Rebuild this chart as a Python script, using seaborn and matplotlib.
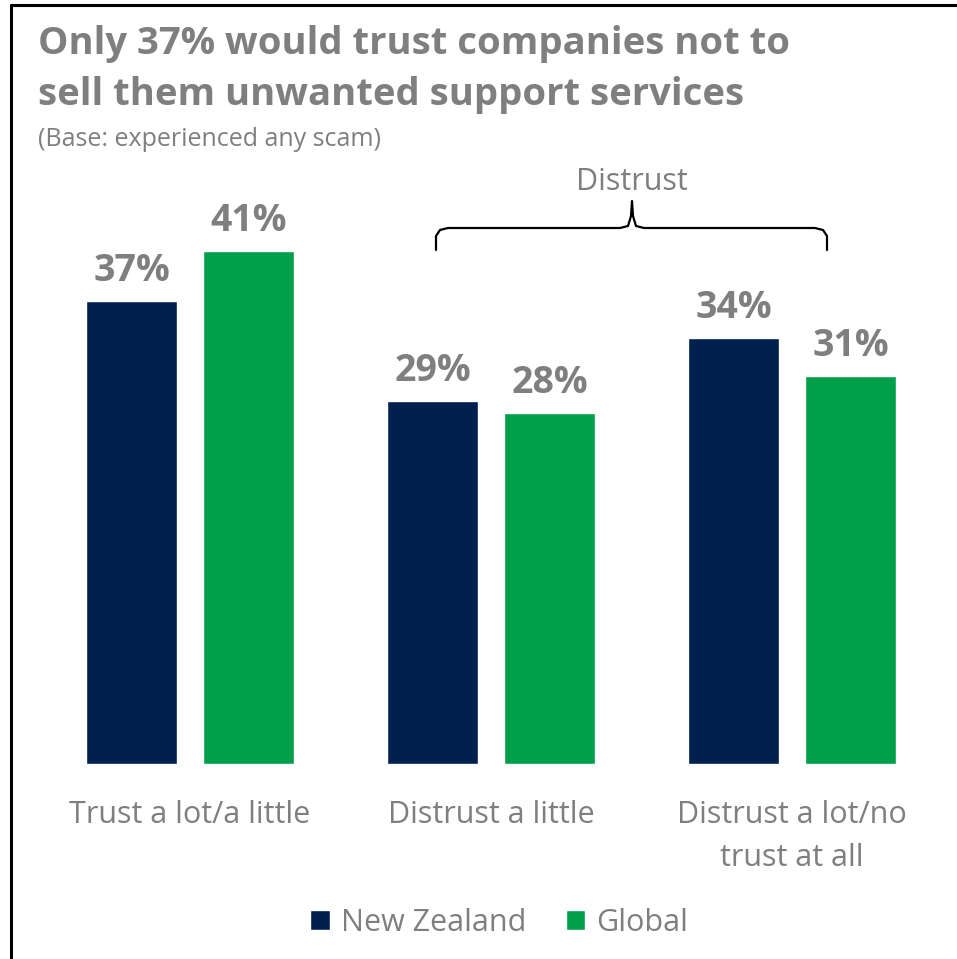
import matplotlib
matplotlib.use("Agg")
import matplotlib.pyplot as plt
from matplotlib.lines import Line2D
from matplotlib.patches import Patch
import seaborn as sns
import pandas as pd

# Survey results (% of respondents who experienced any scam)
categories = ["Trust a lot/a little", "Distrust a little", "Distrust a lot/no\ntrust at all"]
new_zealand = [37, 29, 34]
global_avg = [41, 28, 31]
series_names = ["New Zealand", "Global"]

title = "Only 37% would trust companies not to\nsell them unwanted support services"
subtitle = "(Base: experienced any scam)"
bracket_label = "Distrust"

NAVY = "#00204E"
GREEN = "#009F4A"
GREY = "#7F7F7F"

df = pd.DataFrame({
    "category": categories * 2,
    "value": new_zealand + global_avg,
    "series": [series_names[0]] * 3 + [series_names[1]] * 3,
})

sns.set_theme(style="white")
plt.rcParams["font.family"] = ["Open Sans", "DejaVu Sans"]

W, H = 957, 959
fig = plt.figure(figsize=(W / 100, H / 100), dpi=100)
fig.patch.set_facecolor("white")

# axes spanning the full width; baseline at y=764 px from the top
ax_bottom = 1 - 764 / H
ax_top = 1 - 160 / H
ax = fig.add_axes([0, ax_bottom, 1, ax_top - ax_bottom])
sns.barplot(data=df, x="category", y="value", hue="series",
            palette=[NAVY, GREEN], width=0.777, gap=0.214,
            saturation=1, ax=ax, legend=False)

px_per_unit = 301.0
ax.set_xlim(-190 / px_per_unit, (W - 190) / px_per_unit)
ax.set_ylim(0, (764 - 160) / 12.52)

for cont in ax.containers:
    ax.bar_label(cont, labels=[f"{int(v)}%" for v in cont.datavalues],
                 padding=8, fontsize=27, fontweight="bold", color=GREY)

for s in ax.spines.values():
    s.set_visible(False)
ax.set_yticks([])
ax.set_xlabel("")
ax.set_ylabel("")
ax.tick_params(axis="x", length=0, pad=26, labelsize=22, labelcolor=GREY)
for lbl in ax.get_xticklabels():
    lbl.set_linespacing(1.55)
ax.patch.set_alpha(0)

# Title and subtitle
fig.text(38 / W, 1 - 25 / H, title, fontsize=27.5, fontweight="bold",
         color=GREY, va="top", ha="left", linespacing=1.45)
fig.text(38 / W, 1 - 127 / H, subtitle, fontsize=18, color=GREY,
         va="top", ha="left")

# Curly bracket over the two "Distrust" groups (pixel coords from top-left)
def px(x, y):
    return x / W, 1 - y / H

bx = [436, 436, 440, 448, 620, 628, 631, 632, 633, 636, 644, 815, 823, 827, 827]
by = [250, 236, 230, 228, 228, 226, 216, 201, 216, 226, 228, 228, 230, 236, 250]
xs, ys = zip(*[px(a, b) for a, b in zip(bx, by)])
fig.add_artist(Line2D(xs, ys, color="black", lw=1.6, solid_joinstyle="round"))
fig.text(*px(632, 190), bracket_label, fontsize=22, color=GREY,
         ha="center", va="baseline")

# Legend
handles = [Patch(facecolor=NAVY, label=series_names[0]),
           Patch(facecolor=GREEN, label=series_names[1])]
fig.legend(handles=handles, loc="center", bbox_to_anchor=(499 / W, 1 - 923 / H),
           ncol=2, frameon=False, fontsize=22, labelcolor=GREY,
           handlelength=0.65, handleheight=0.65, handletextpad=0.35,
           columnspacing=1.3)

# Frame lines along the top and left edges
fig.add_artist(Line2D([11 / W, 1], [1 - 5 / H, 1 - 5 / H], color="black", lw=2.2))
fig.add_artist(Line2D([11 / W, 11 / W], [0, 1 - 5 / H], color="black", lw=2.2))

fig.savefig("out.png", dpi=100)
